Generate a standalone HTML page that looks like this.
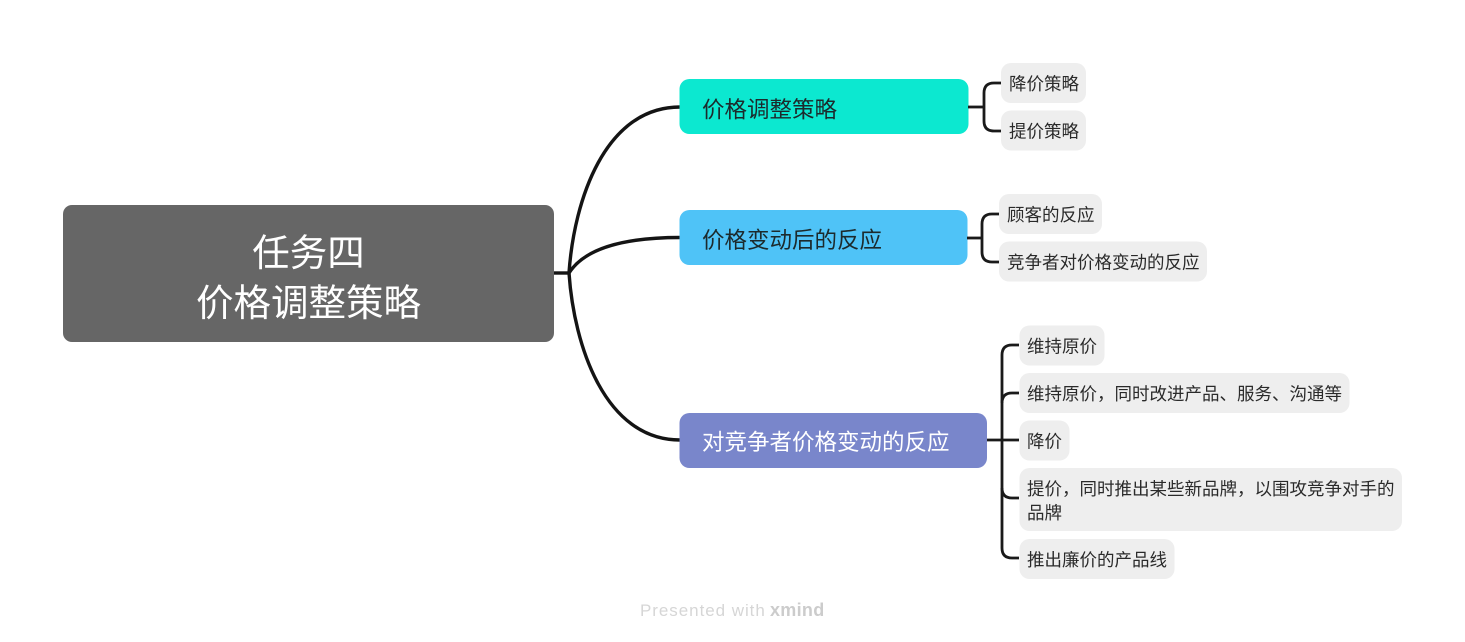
<!DOCTYPE html>
<html lang="zh">
<head>
<meta charset="utf-8">
<style>
html,body{margin:0;padding:0;background:#fff;width:1465px;height:642px;overflow:hidden}
svg{display:block}
text{font-family:"Liberation Sans","Noto Sans CJK SC",sans-serif}
.l{font-size:17.5px;fill:#2a2a2a}
.b{font-size:22.5px;fill:#1c2a2c}
.r{font-size:37.5px;fill:#fff;text-anchor:middle}
.leaf{fill:#eeeeee}
.c{fill:none;stroke:#141414;stroke-width:3.4;stroke-linecap:butt}
.d{fill:none;stroke:#1a1a1a;stroke-width:2.8}
</style>
</head>
<body>
<svg width="1465" height="642" viewBox="0 0 1465 642" xmlns="http://www.w3.org/2000/svg">
<rect width="1465" height="642" fill="#fff"/>
<path class="c" d="M554 273H569"/>
<path class="c" d="M569 273C574 200 605 107 680 107"/>
<path class="c" d="M569 273C585 248 625 237.500 680 237.500"/>
<path class="c" d="M569 273C574 346 605 440 680 440"/>
<rect x="63" y="205" width="491" height="137" rx="9" fill="#666666"/>
<text class="r" x="308.5" y="266">任务四</text>
<text class="r" x="308.5" y="316">价格调整策略</text>
<rect x="679.500" y="79" width="289" height="55" rx="10" fill="#0ce8d0"/>
<text class="b" x="702" y="117.500">价格调整策略</text>
<rect x="679.500" y="210" width="288" height="55" rx="10" fill="#4fc3f7"/>
<text class="b" x="702" y="248">价格变动后的反应</text>
<rect x="679.500" y="413" width="307.500" height="55" rx="10" fill="#7986cb"/>
<text class="b" x="702" y="450" style="fill:#fff">对竞争者价格变动的反应</text>
<path class="d" d="M968 107H984"/>
<path class="d" d="M1001 83H994Q984 83 984 93V121Q984 131 994 131H1001"/>
<path class="d" d="M967 238H982"/>
<path class="d" d="M999 214H992Q982 214 982 224V252Q982 262 992 262H999"/>
<path class="d" d="M987 440H1019"/>
<path class="d" d="M1019 345H1012Q1002 345 1002 355V548Q1002 558 1012 558H1019"/>
<path class="d" d="M1019 393H1012Q1002 393 1002 403"/>
<path class="d" d="M1002 488Q1002 498 1012 498H1019"/>
<rect class="leaf" x="1001" y="63" width="85" height="40" rx="10"/>
<text class="l" x="1009" y="90">降价策略</text>
<rect class="leaf" x="1001" y="110.500" width="85" height="40" rx="10"/>
<text class="l" x="1009" y="137.500">提价策略</text>
<rect class="leaf" x="999" y="194" width="103" height="40" rx="10"/>
<text class="l" x="1007" y="221">顾客的反应</text>
<rect class="leaf" x="999" y="241.500" width="208" height="40" rx="10"/>
<text class="l" x="1007" y="268.500">竞争者对价格变动的反应</text>
<rect class="leaf" x="1019.500" y="325.500" width="85" height="40" rx="10"/>
<text class="l" x="1027" y="352.500">维持原价</text>
<rect class="leaf" x="1019.500" y="373" width="330" height="40" rx="10"/>
<text class="l" x="1027" y="400">维持原价，同时改进产品、服务、沟通等</text>
<rect class="leaf" x="1019.500" y="420.500" width="50" height="40" rx="10"/>
<text class="l" x="1027" y="447.500">降价</text>
<rect class="leaf" x="1019.500" y="468" width="382.500" height="63" rx="10"/>
<text class="l" x="1027" y="495">提价，同时推出某些新品牌，以围攻竞争对手的</text>
<text class="l" x="1027" y="519">品牌</text>
<rect class="leaf" x="1019.500" y="539" width="155" height="40" rx="10"/>
<text class="l" x="1027" y="566">推出廉价的产品线</text>
<text x="640" y="616" style="font-size:17px;fill:#d6d6d6;letter-spacing:.95px">Presented with</text>
<text x="770" y="616" style="font-size:18px;font-weight:700;fill:#cccccc;letter-spacing:.3px">xmind</text>
</svg>
</body>
</html>
